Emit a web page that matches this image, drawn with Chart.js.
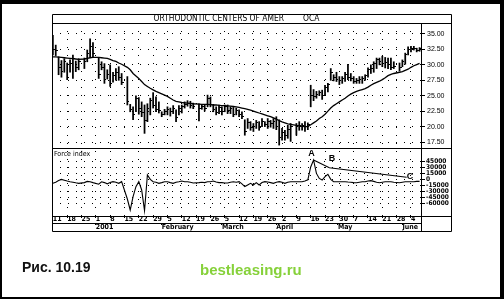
<!DOCTYPE html>
<html><head><meta charset="utf-8">
<script src="https://cdn.jsdelivr.net/npm/chart.js@4.4.1/dist/chart.umd.min.js"></script>
<style>
html,body{margin:0;padding:0;background:#fff;}
body{width:504px;height:299px;position:relative;overflow:hidden;}
#wrap{position:absolute;left:0;top:0;width:504px;height:299px;}
.edge{position:absolute;background:#000;}
#cap{position:absolute;left:22px;top:260px;font:bold 14px/14px 'Liberation Sans',Arial,sans-serif;color:#111;white-space:nowrap;}
#wm{position:absolute;left:200px;top:262px;font:bold 15px/15px 'Liberation Sans',Arial,sans-serif;color:#86d13a;white-space:nowrap;}
</style></head>
<body>
<div id="wrap"><canvas id="c" width="504" height="299"></canvas></div>
<div class="edge" style="left:0;top:0;width:504px;height:4px"></div>
<div class="edge" style="left:0;top:0;width:2px;height:299px"></div>
<div class="edge" style="left:500px;top:0;width:4px;height:299px"></div>
<div class="edge" style="left:0;top:297px;width:504px;height:2px"></div>
<div id="cap">Рис. 10.19</div>
<div id="wm">bestleasing.ru</div>
<script>
// Weekday index 0 = Mon Dec 11 2000; null = market holiday
const highs = [34.8,33.2,31.3,30.7,31.0,30.3,30.8,31.6,30.6,31.0,null,31.1,32.4,34.2,33.6,null,31.2,30.5,30.2,29.2,30.0,28.8,29.4,29.7,28.6,null,28.1,23.6,23.2,25.0,24.7,24.0,23.5,23.7,24.6,25.5,24.8,24.0,22.4,22.8,23.2,23.0,23.4,22.7,23.4,23.5,24.0,24.2,24.1,23.8,null,23.7,23.5,23.5,25.1,24.8,23.6,23.2,23.5,23.2,23.5,23.5,23.2,23.1,23.0,22.7,22.4,21.1,21.3,20.8,20.5,21.0,20.8,21.3,20.8,21.3,21.0,21.3,21.6,21.1,19.7,19.4,20.2,20.5,null,20.5,20.8,20.5,20.8,20.6,26.7,26.0,25.7,25.8,25.9,26.7,27.0,29.4,28.4,28.8,28.1,28.1,28.8,30.1,28.6,28.1,27.8,28.1,28.1,28.4,29.5,30.0,30.5,31.1,31.1,31.4,31.2,31.1,31.1,30.5,null,30.3,30.8,31.9,32.9,33.0,33.0,32.7,32.8];
const lows = [31.6,31.5,28.4,28.0,28.8,27.6,28.8,27.8,28.9,29.2,null,29.4,30.5,31.2,31.3,null,27.8,29.2,27.0,27.7,26.5,27.2,27.5,27.5,26.8,null,23.5,22.4,21.1,22.4,22.0,21.6,18.9,20.8,21.9,23.0,22.4,22.2,21.6,21.9,21.9,21.7,22.1,20.8,21.9,22.2,23.0,23.3,23.0,22.9,null,20.9,22.8,22.5,23.2,23.2,22.4,21.9,22.1,21.9,22.4,22.1,22.1,21.6,21.9,21.6,21.3,18.6,19.7,19.4,19.2,19.7,19.4,20.0,20.0,19.7,19.9,19.7,19.5,17.0,17.8,17.8,18.1,17.6,null,18.6,19.4,19.4,19.2,19.5,23.2,24.2,24.6,25.0,24.4,25.1,25.6,27.5,27.4,27.3,26.8,27.0,27.3,27.6,27.4,27.0,27.0,27.0,27.0,27.5,28.0,28.6,28.8,29.4,30.0,29.7,29.5,29.4,29.2,29.4,null,29.0,29.7,30.1,31.6,32.1,32.4,32.1,32.2];
const closes = [32.5,32.4,29.5,29.0,30.5,28.0,30.2,31.0,29.6,30.5,null,30.6,31.8,33.0,31.8,null,28.5,29.6,27.6,28.5,27.0,28.2,28.8,28.0,27.2,null,24.0,22.8,22.0,24.6,23.0,22.3,21.0,23.0,24.2,23.4,22.8,22.6,21.9,22.5,22.8,22.4,23.0,21.4,23.0,23.2,23.6,23.8,23.4,23.2,null,23.0,23.2,23.0,24.5,23.6,22.8,22.3,23.1,22.5,23.2,22.6,22.9,22.0,22.6,22.0,21.6,19.2,20.6,19.8,20.0,20.6,19.9,20.8,20.3,20.9,20.5,20.8,20.0,18.2,19.0,18.5,19.6,20.0,null,20.0,20.2,20.2,20.0,20.3,25.0,24.8,25.2,25.5,25.0,26.3,26.8,28.8,27.9,27.6,27.5,27.8,28.5,28.0,27.8,27.3,27.5,27.6,27.8,28.2,29.2,29.4,30.3,30.8,30.5,30.2,30.4,30.0,29.6,29.8,null,29.5,30.5,31.6,32.5,32.6,32.7,32.4,32.6];
const movingAvg = [31.3,31.3,31.25,31.2,31.15,31.1,31.05,31.0,30.95,30.9,null,30.95,31.05,31.15,31.2,null,31.2,31.15,31.1,31.05,30.9,30.7,30.55,30.3,30.1,null,29.6,29.2,28.6,28.2,27.8,27.3,26.8,26.5,26.2,25.95,25.7,25.5,25.3,25.1,24.9,24.6,24.3,24.1,24.0,23.9,23.85,23.8,23.75,23.7,null,23.65,23.6,23.6,23.6,23.55,23.5,23.5,23.45,23.4,23.4,23.35,23.3,23.25,23.2,23.1,23.0,22.9,22.8,22.65,22.5,22.35,22.2,22.05,21.9,21.75,21.6,21.4,21.2,20.95,20.75,20.6,20.45,20.35,null,20.2,20.1,20.05,20.0,20.0,20.3,20.6,20.9,21.3,21.6,22.0,22.5,23.0,23.4,23.7,24.0,24.3,24.6,24.95,25.25,25.5,25.7,25.85,26.0,26.15,26.4,26.7,26.95,27.15,27.35,27.6,27.9,28.25,28.45,28.6,null,28.8,28.9,29.1,29.3,29.6,29.85,30.05,30.25];
const forceIndex = [-10800,-8000,-4000,-1000,-3000,-5000,-6700,-8000,-9500,-10800,null,-9000,-6000,-6700,-9000,null,-13000,-7000,-9000,-12000,-9000,-6700,-8000,-10800,-6700,null,-50000,-77500,-44000,-19000,-6700,-27500,-79000,10000,-1000,-6700,-8000,-10800,-9000,-7000,-6700,-9000,-10800,-8000,-6700,-5000,-6700,-6700,-8000,-10000,null,-9000,-8000,-9000,-6700,-6700,-5000,-7500,-9000,-9000,-10000,-10000,-8000,-7000,-8000,-6700,-12000,-19000,-15000,-10800,-15000,-9000,-15000,-9000,-6700,-7500,-9000,-10800,-8000,-6700,-8000,-10800,-8000,-6700,null,-6700,-6700,-6700,-5000,-2000,30000,47500,14000,1500,-2500,5800,11700,-800,-6700,-6700,-6700,-6700,-6700,-7500,-8000,-9000,-9200,-8000,-7000,-6700,-5000,-4200,-6000,-8000,-9200,-8000,-6700,-6700,-6700,-8000,null,-9200,-8000,-6700,-6700,-7000,-6700,-6000,-6000];
const trendX = [91, 96.5, 123.5];
const trendY = [47500, 28000, 4500];
const markLabels = ['A', 'B', 'C'];
const markX = [90.3, 97.4, 124.7];
const markY = [64000, 50000, 6000];
const weekTickPos = [0,5,10,15,20,25,30,35,40,45,50,55,60,65,70,75,80,85,90,95,100,105,110,115,120,125];
const weekTickLabels = ['11','18','25','1','8','15','22','29','5','12','19','26','5','12','19','26','2','9','16','23','30','7','14','21','28','4'];
const monthTickPos = [15, 38, 59, 78, 99.5, 122];
const monthTickLabels = ['2001', 'February', 'March', 'April', 'May', 'June'];
const priceTicks = [17.5, 20, 22.5, 25, 27.5, 30, 32.5, 35];
const forceTicks = [-60000, -45000, -30000, -15000, 0, 15000, 30000, 45000];
const chartTitle = 'ORTHODONTIC CENTERS OF AMER        OCA';
const panelLabel = 'Force index';

const NARROW = "'Liberation Sans Narrow','DejaVu Sans Condensed','Liberation Sans',sans-serif";
const SANS = "'Liberation Sans',Arial,sans-serif";

const tickImg = document.createElement('canvas');
tickImg.width = 4; tickImg.height = 1;
(function(){ const g = tickImg.getContext('2d'); g.fillStyle = '#000'; g.fillRect(2, 0, 2, 1); })();

const barData = [], closeData = [], maData = [], fiData = [];
highs.forEach((h, i) => {
  if (h != null) { barData.push({x: i, y: [lows[i], h]}); closeData.push({x: i, y: closes[i]}); }
  if (movingAvg[i] != null) maData.push({x: i, y: movingAvg[i]});
  if (forceIndex[i] != null) fiData.push({x: i, y: forceIndex[i]});
});
const trendData = trendX.map((x, i) => ({x, y: trendY[i]}));

const framePlugin = {
  id: 'frame',
  afterDraw(chart) {
    const {ctx, chartArea: a, scales} = chart;
    const t = chart.titleBlock;
    const r = v => Math.round(v) + 0.5;
    const L = r(a.left), R = r(scales.y.right - 1), T = r(t.top), B = r(scales.xm.bottom - 1);
    ctx.save();
    ctx.strokeStyle = '#000'; ctx.lineWidth = 1;
    ctx.beginPath();
    ctx.rect(L, T, R - L, B - T);
    const hl = (y, x2) => { ctx.moveTo(L, r(y)); ctx.lineTo(x2, r(y)); };
    hl(a.top, R); hl(scales.y.bottom, R); hl(a.bottom, R); hl(scales.x.bottom, r(a.right));
    ctx.moveTo(r(a.right), r(a.top)); ctx.lineTo(r(a.right), B);
    ctx.stroke();
    ctx.fillStyle = '#000';
    ctx.font = "7px " + NARROW;
    ctx.textBaseline = 'middle'; ctx.textAlign = 'left';
    ctx.fillText(panelLabel, a.left + 2, scales.yF.top + 6);
    ctx.font = "bold 9px " + SANS;
    ctx.textAlign = 'center';
    markLabels.forEach((m, i) => {
      ctx.fillText(m, scales.x.getPixelForValue(markX[i]), scales.yF.getPixelForValue(markY[i]));
    });
    ctx.restore();
  }
};

const gridCommon = {color: '#000', lineWidth: 1, tickColor: '#000', tickWidth: 1, offset: false};
const DOTS = [1, 7];

new Chart(document.getElementById('c'), {
  type: 'bar',
  data: {
    datasets: [
      {type: 'bar', data: barData, yAxisID: 'y', xAxisID: 'x', backgroundColor: '#000', borderWidth: 0, barThickness: 1.1, order: 3},
      {type: 'scatter', data: closeData, yAxisID: 'y', xAxisID: 'x', pointStyle: tickImg, pointRadius: 2, showLine: false, order: 2},
      {type: 'line', data: maData, yAxisID: 'y', xAxisID: 'x', borderColor: '#000', borderWidth: 1.3, pointRadius: 0, tension: 0, spanGaps: true, order: 1},
      {type: 'line', data: fiData, yAxisID: 'yF', xAxisID: 'x', borderColor: '#000', borderWidth: 1.1, pointRadius: 0, tension: 0, spanGaps: true, order: 1},
      {type: 'line', data: trendData, yAxisID: 'yF', xAxisID: 'x', borderColor: '#000', borderWidth: 1.1, pointRadius: 0, tension: 0, order: 1}
    ]
  },
  options: {
    responsive: false, animation: false, devicePixelRatio: 1,
    layout: {padding: {left: 52, top: 14, right: 52, bottom: 67}},
    plugins: {
      legend: {display: false}, tooltip: {enabled: false},
      title: {display: true, text: chartTitle, fullSize: false, align: 'center', color: '#000',
        font: {family: NARROW, size: 8.4, weight: 'normal', lineHeight: 9 / 8.4}, padding: {top: 0, bottom: 0}}
    },
    scales: {
      x: {type: 'linear', position: 'bottom', min: -0.3, max: 128.5, offset: false,
        afterBuildTicks: s => { s.ticks = weekTickPos.map(v => ({value: v})); },
        afterFit: s => { s.height = 7; },
        ticks: {autoSkip: false, maxRotation: 0, align: 'start', padding: -2, color: '#000',
          font: {family: NARROW, size: 7, weight: 'bold', lineHeight: 1},
          callback: (v, i) => weekTickLabels[i]},
        grid: Object.assign({}, gridCommon, {drawOnChartArea: true, tickLength: 2}),
        border: {display: false, dash: DOTS}
      },
      xm: {type: 'linear', position: 'bottom', min: -0.3, max: 128.5, offset: false,
        afterBuildTicks: s => { s.ticks = monthTickPos.map(v => ({value: v})); },
        afterFit: s => { s.height = 9; },
        ticks: {autoSkip: false, maxRotation: 0, align: 'start', padding: -1, color: '#000',
          font: {family: NARROW, size: 7, weight: 'bold', lineHeight: 1},
          callback: (v, i) => monthTickLabels[i]},
        grid: Object.assign({}, gridCommon, {drawOnChartArea: false, tickLength: 2}),
        border: {display: false}
      },
      y: {type: 'linear', position: 'right', stack: 'panels', stackWeight: 125, min: 16.53, max: 36.78,
        afterBuildTicks: s => { s.ticks = priceTicks.map(v => ({value: v})); },
        afterFit: s => { s.width = 31; },
        ticks: {autoSkip: false, padding: 2, color: '#000', font: {family: SANS, size: 7, lineHeight: 1},
          callback: v => Number(v).toFixed(2)},
        grid: Object.assign({}, gridCommon, {drawOnChartArea: true, tickLength: 4}),
        border: {display: false, dash: DOTS}
      },
      yF: {type: 'linear', position: 'right', stack: 'panels', stackWeight: 68, min: -92500, max: 77500,
        afterBuildTicks: s => { s.ticks = forceTicks.map(v => ({value: v})); },
        afterFit: s => { s.width = 31; },
        ticks: {autoSkip: false, padding: 1, color: '#000', font: {family: NARROW, size: 6.5, weight: 'bold', lineHeight: 1},
          callback: v => String(v)},
        grid: Object.assign({}, gridCommon, {drawOnChartArea: true, tickLength: 4}),
        border: {display: false, dash: DOTS}
      }
    }
  },
  plugins: [framePlugin]
});
</script>
</body></html>
